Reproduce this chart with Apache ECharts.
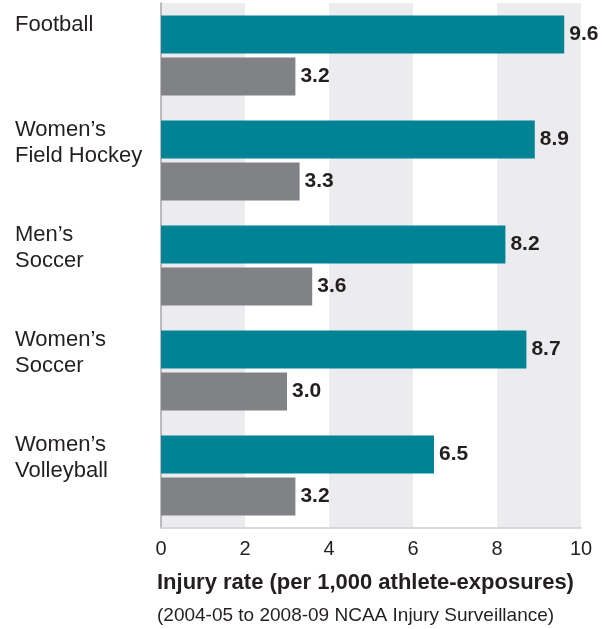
<!DOCTYPE html>
<html>
<head>
<meta charset="utf-8">
<script src="https://cdn.jsdelivr.net/npm/echarts@6/dist/echarts.min.js"></script>
<style>
html, body { margin: 0; padding: 0; background: #fff; }
#myChart { width: 602px; height: 629px; }
</style>
</head>
<body>
<div id="myChart"></div>
<script>
// sports, top to bottom
var sports = ['Football', 'Women\u2019s\nField Hockey', 'Men\u2019s\nSoccer', 'Women\u2019s\nSoccer', 'Women\u2019s\nVolleyball']
// teal bars and gray bars
var rateTeal = [9.6, 8.9, 8.2, 8.7, 6.5]
var rateGray = [3.2, 3.3, 3.6, 3.0, 3.2]
var xTicks = [0, 2, 4, 6, 8, 10]

var fontFam = 'Liberation Sans, Arial, sans-serif'
var textColor = '#231f20'

var myChart = echarts.init(document.getElementById('myChart'))

var valueLabel = {
  show: true,
  position: 'right',
  distance: 5,
  color: textColor,
  fontFamily: fontFam,
  fontSize: 21,
  fontWeight: 'bold',
  formatter: function (p) { return p.value.toFixed(1) }
}

myChart.setOption({
  animation: false,
  title: [
    {
      text: 'Injury rate (per 1,000 athlete-exposures)',
      left: 157,
      top: 571,
      padding: 0,
      textStyle: { color: textColor, fontFamily: fontFam, fontSize: 22, fontWeight: 'bold', lineHeight: 24 }
    },
    {
      text: '(2004-05 to 2008-09 NCAA Injury Surveillance)',
      left: 157,
      top: 605,
      padding: 0,
      textStyle: { color: textColor, fontFamily: fontFam, fontSize: 19, fontWeight: 'normal', lineHeight: 22 }
    }
  ],
  grid: { left: 161, right: 21, top: 3, bottom: 101, containLabel: false },
  xAxis: {
    type: 'value',
    min: 0,
    max: 10,
    interval: 2,
    axisLine: { show: true, lineStyle: { color: '#cfcfd1', width: 1.5 } },
    axisTick: { show: false },
    splitLine: { show: false },
    splitArea: { show: true, areaStyle: { color: ['#ececee', '#ffffff'] } },
    axisLabel: {
      margin: 11,
      color: textColor,
      fontFamily: fontFam,
      fontSize: 20,
      formatter: function (v) { return xTicks.indexOf(v) >= 0 ? String(v) : '' }
    }
  },
  yAxis: {
    type: 'category',
    inverse: true,
    data: sports,
    axisLine: { show: true, lineStyle: { color: '#a7a7aa', width: 1.5 } },
    axisTick: { show: false },
    axisLabel: {
      align: 'left',
      margin: 146,
      verticalAlign: 'middle',
      lineHeight: 26,
      color: textColor,
      fontFamily: fontFam,
      fontSize: 22,
      // pad every label to the same height so the first line sits at the top of its row
      formatter: function (v) {
        var t = v.indexOf('\n') >= 0 ? v : v + '\n\u00a0'
        return t + '\n{s|\u00a0}'
      },
      rich: {
        s: { fontSize: 2, lineHeight: 35, height: 35 }
      }
    }
  },
  series: [
    {
      name: 'teal',
      type: 'bar',
      data: rateTeal,
      barWidth: 38,
      barGap: '11%',
      itemStyle: { color: '#008395' },
      label: valueLabel
    },
    {
      name: 'gray',
      type: 'bar',
      data: rateGray,
      barWidth: 38,
      itemStyle: { color: '#818285' },
      label: valueLabel
    }
  ]
})
</script>
</body>
</html>
